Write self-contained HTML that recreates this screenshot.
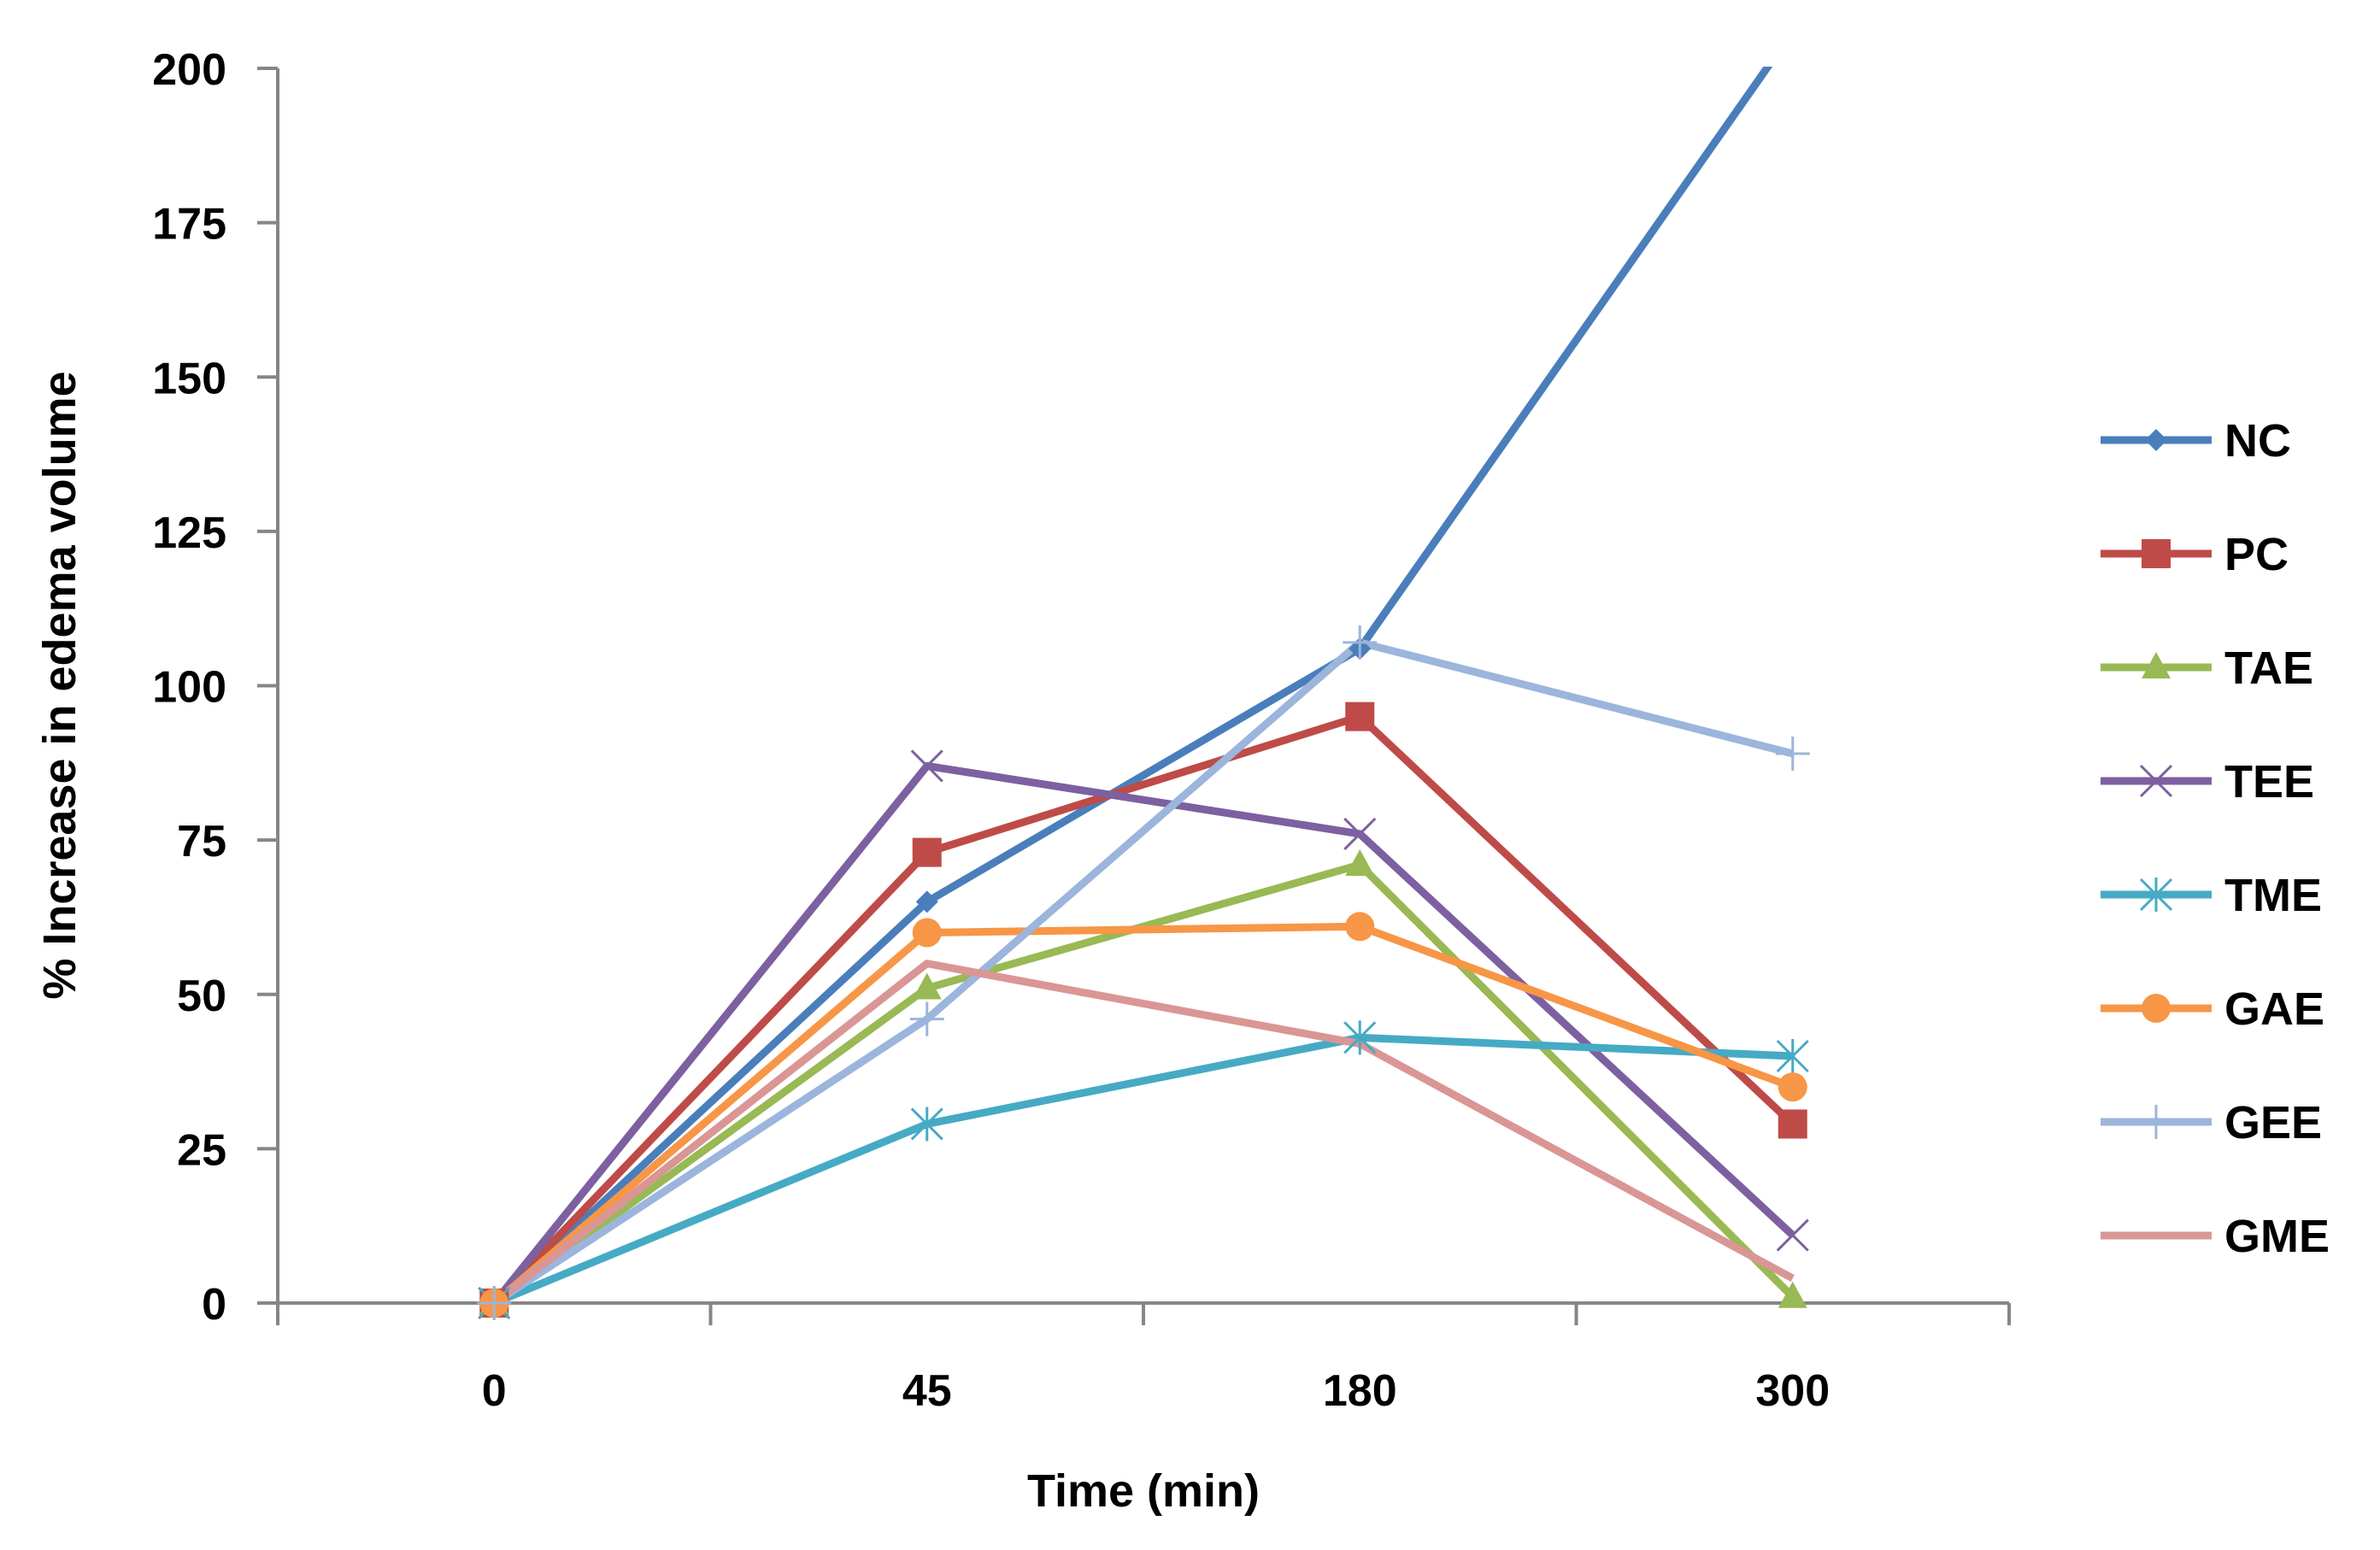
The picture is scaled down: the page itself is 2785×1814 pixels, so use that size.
<!DOCTYPE html>
<html><head><meta charset="utf-8"><style>
html,body{margin:0;padding:0;background:#fff;}
svg{display:block;}
text{font-family:"Liberation Sans",sans-serif;font-weight:bold;fill:#000;}
</style></head><body>
<svg id="chart" width="2785" height="1814" viewBox="0 0 2785 1814" xmlns="http://www.w3.org/2000/svg">
<defs><clipPath id="plotclip"><rect x="325" y="78" width="2030" height="1460"/></clipPath></defs>
<g id="axes"></g>
<g id="series" clip-path="url(#plotclip)"></g>
<g id="markers"></g>
<g id="legend"></g>
<text x="1338" y="1763" font-size="54" text-anchor="middle">Time (min)</text>
<text transform="translate(88,802) rotate(-90)" font-size="54" text-anchor="middle">% Increase in edema volume</text>
</svg>
<script>
const categories = ["0","45","180","300"];
const yTicks = [0,25,50,75,100,125,150,175,200];
const seriesNames = ["NC","PC","TAE","TEE","TME","GAE","GEE","GME"];
const NC  = [0,65,106,206];
const PC  = [0,73,95,29];
const TAE = [0,51,71,1];
const TEE = [0,87,76,11];
const TME = [0,29,43,40];
const GAE = [0,60,61,35];
const GEE = [0,46,107,89];
const GME = [0,55,42,4];
const seriesValues = [NC,PC,TAE,TEE,TME,GAE,GEE,GME];
const colors = ["#4A7EBB","#BE4B48","#98B954","#7D60A0","#46AAC5","#F79646","#9BB5DC","#D99694"];
const markers = ["diamond","square","triangle","x","star","circle","plus","none"];

const NS="http://www.w3.org/2000/svg";
const X0=325, X1=2351, Y0=1525, Y1=80, yMax=200;
const band=(X1-X0)/categories.length;
const xPos=i=>X0+band*(i+0.5);
const yPos=v=>Y0-(v/yMax)*(Y0-Y1);
function mk(tag,attrs,parent){const e=document.createElementNS(NS,tag);for(const k in attrs)e.setAttribute(k,attrs[k]);parent.appendChild(e);return e;}
const axes=document.getElementById('axes');
const sg=document.getElementById('series');
const mg=document.getElementById('markers');
const lg=document.getElementById('legend');

let e=mk('line',{x1:X0,y1:Y1,x2:X0,y2:Y0+2,stroke:'#868686','stroke-width':4},axes);


e=mk('line',{x1:X0,y1:Y0,x2:X1,y2:Y0,stroke:'#868686','stroke-width':4},axes);


yTicks.forEach(t=>{
  const y=yPos(t);
  const l=mk('line',{x1:X0-24,y1:y,x2:X0,y2:y,stroke:'#868686','stroke-width':4},axes);
  
  
  const tx=mk('text',{x:265,y:y+19,'font-size':52,'text-anchor':'end'},axes);
  tx.textContent=t;
  
  
});
for(let i=0;i<=categories.length;i++){
  const x=X0+band*i;
  const l=mk('line',{x1:x,y1:Y0,x2:x,y2:Y0+26,stroke:'#868686','stroke-width':4},axes);
  
  
}
categories.forEach((c,i)=>{
  const tx=mk('text',{x:xPos(i),y:1645,'font-size':52,'text-anchor':'middle'},axes);
  tx.textContent=c;
  
  
});

function drawMarker(type,x,y,col,parent){
  const s=13;let m=null;
  if(type==='diamond') m=mk('polygon',{points:`${x},${y-s} ${x+s},${y} ${x},${y+s} ${x-s},${y}`,fill:col},parent);
  else if(type==='square') m=mk('rect',{x:x-17,y:y-17,width:34,height:34,fill:col},parent);
  else if(type==='triangle') m=mk('polygon',{points:`${x},${y-18} ${x+17},${y+13} ${x-17},${y+13}`,fill:col},parent);
  else if(type==='circle') m=mk('circle',{cx:x,cy:y,r:17,fill:col},parent);
  else if(type==='x') m=mk('path',{d:`M${x-18},${y-18}L${x+18},${y+18}M${x+18},${y-18}L${x-18},${y+18}`,stroke:col,'stroke-width':3,fill:'none'},parent);
  else if(type==='star') m=mk('path',{d:`M${x-18},${y-18}L${x+18},${y+18}M${x+18},${y-18}L${x-18},${y+18}M${x},${y-20}L${x},${y+20}`,stroke:col,'stroke-width':3,fill:'none'},parent);
  else if(type==='plus') m=mk('path',{d:`M${x-20},${y}L${x+20},${y}M${x},${y-20}L${x},${y+20}`,stroke:col,'stroke-width':3,fill:'none'},parent);
  return m;
}

seriesValues.forEach((vals,si)=>{
  const pts=vals.map((v,i)=>xPos(i)+','+yPos(v)).join(' ');
  const pl=mk('polyline',{points:pts,fill:'none',stroke:colors[si],'stroke-width':9,'stroke-linejoin':'round'},sg);
  
  
  vals.forEach((v,i)=>{
    if(yPos(v)<Y1) return;
    const m=drawMarker(markers[si],xPos(i),yPos(v),colors[si],mg);
    if(m){
      
      
    }
  });
  const ly=515+si*133;
  const g=mk('g',{},lg);
  
  
  mk('line',{x1:2458,y1:ly,x2:2588,y2:ly,stroke:colors[si],'stroke-width':9},g);
  drawMarker(markers[si],2523,ly,colors[si],g);
  const t=mk('text',{x:2603,y:ly+19,'font-size':54},g);
  t.textContent=seriesNames[si];
});
</script>
</body></html>
